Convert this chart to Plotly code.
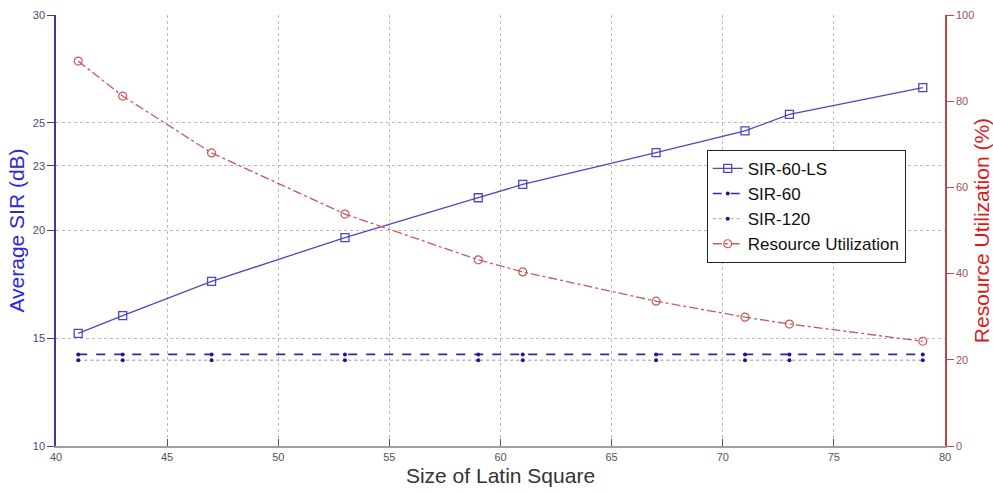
import plotly.graph_objects as go

# Latin square sizes evaluated
sizes = [41, 43, 47, 53, 59, 61, 67, 71, 73, 79]

# Average SIR in dB
sir_60_ls = [15.23, 16.05, 17.64, 19.67, 21.52, 22.14, 23.61, 24.62, 25.39, 26.63]
sir_60 = [14.25] * len(sizes)
sir_120 = [13.98] * len(sizes)

# Resource utilization in percent
utilization = [89.3, 81.2, 68.0, 53.8, 43.2, 40.4, 33.6, 29.9, 28.3, 24.3]

left_ticks = [10, 15, 20, 23, 25, 30]
right_ticks = [0, 20, 40, 60, 80, 100]
x_ticks = [40, 45, 50, 55, 60, 65, 70, 75, 80]

fig = go.Figure()

fig.add_trace(go.Scatter(
    x=sizes, y=sir_60_ls, name="SIR-60-LS", mode="lines+markers",
    line=dict(color="#4a4ac0", width=1.3),
    marker=dict(symbol="square-open", size=8, color="#4a4ac0", line=dict(width=1.3)),
))
fig.add_trace(go.Scatter(
    x=sizes, y=sir_60, name="SIR-60", mode="lines+markers",
    line=dict(color="#2a2aa8", width=1.6, dash="dash"),
    marker=dict(symbol="circle", size=4, color="#1a1a90"),
))
fig.add_trace(go.Scatter(
    x=sizes, y=sir_120, name="SIR-120", mode="lines+markers",
    line=dict(color="#b8b4c8", width=1.3, dash="dot"),
    marker=dict(symbol="circle", size=4, color="#1a1a90"),
))
fig.add_trace(go.Scatter(
    x=sizes, y=utilization, name="Resource Utilization", mode="lines+markers",
    yaxis="y2",
    line=dict(color="#c85a5a", width=1.3, dash="dashdot"),
    marker=dict(symbol="circle-open", size=8, color="#c85a5a", line=dict(width=1.2)),
))

tick_font = dict(family="Liberation Sans, Arial", size=11, color="#555555")

fig.update_layout(
    width=993, height=493,
    margin=dict(l=56, r=48, t=15, b=47),
    paper_bgcolor="white", plot_bgcolor="white",
    xaxis=dict(
        range=[40, 80], tickvals=x_ticks, ticks="inside", ticklen=7,
        tickcolor="#555555", showline=True, linecolor="#a0a0a0", linewidth=1.5,
        showgrid=True, gridcolor="#bcbcbc", griddash="dot", gridwidth=1,
        zeroline=False, tickfont=tick_font, automargin=False,
        title=dict(text="Size of Latin Square", standoff=6,
                   font=dict(family="Liberation Sans, Arial", size=21, color="#333333")),
    ),
    yaxis=dict(
        range=[10, 30], tickvals=left_ticks, ticks="outside", ticklen=7,
        tickcolor="#3a3a9a", showline=True, linecolor="#3a3a9a", linewidth=1.5,
        showgrid=True, gridcolor="#bcbcbc", griddash="dot", gridwidth=1,
        zeroline=False, automargin=False,
        tickfont=dict(family="Liberation Sans, Arial", size=11, color="#4a4a6a"),
        title=dict(text="Average SIR (dB)", standoff=2,
                   font=dict(family="Liberation Sans, Arial", size=21, color="#2a2ad8")),
    ),
    yaxis2=dict(
        range=[0, 100], tickvals=right_ticks, overlaying="y", side="right",
        ticks="outside", ticklen=7, tickcolor="#b84848",
        showline=True, linecolor="#b84848", linewidth=1.5,
        showgrid=False, zeroline=False, automargin=False,
        tickfont=dict(family="Liberation Sans, Arial", size=11, color="#a05050"),
        title=dict(text="Resource Utilization (%)", standoff=4,
                   font=dict(family="Liberation Sans, Arial", size=21, color="#dd1a1a")),
    ),
    legend=dict(
        x=0.732, y=0.687, xanchor="left", yanchor="top",
        bgcolor="white", bordercolor="#222222", borderwidth=1,
        font=dict(family="Liberation Sans, Arial", size=17, color="#111111"),
        tracegroupgap=0, itemwidth=30,
    ),
    showlegend=True,
)

fig.write_html("out.html")
